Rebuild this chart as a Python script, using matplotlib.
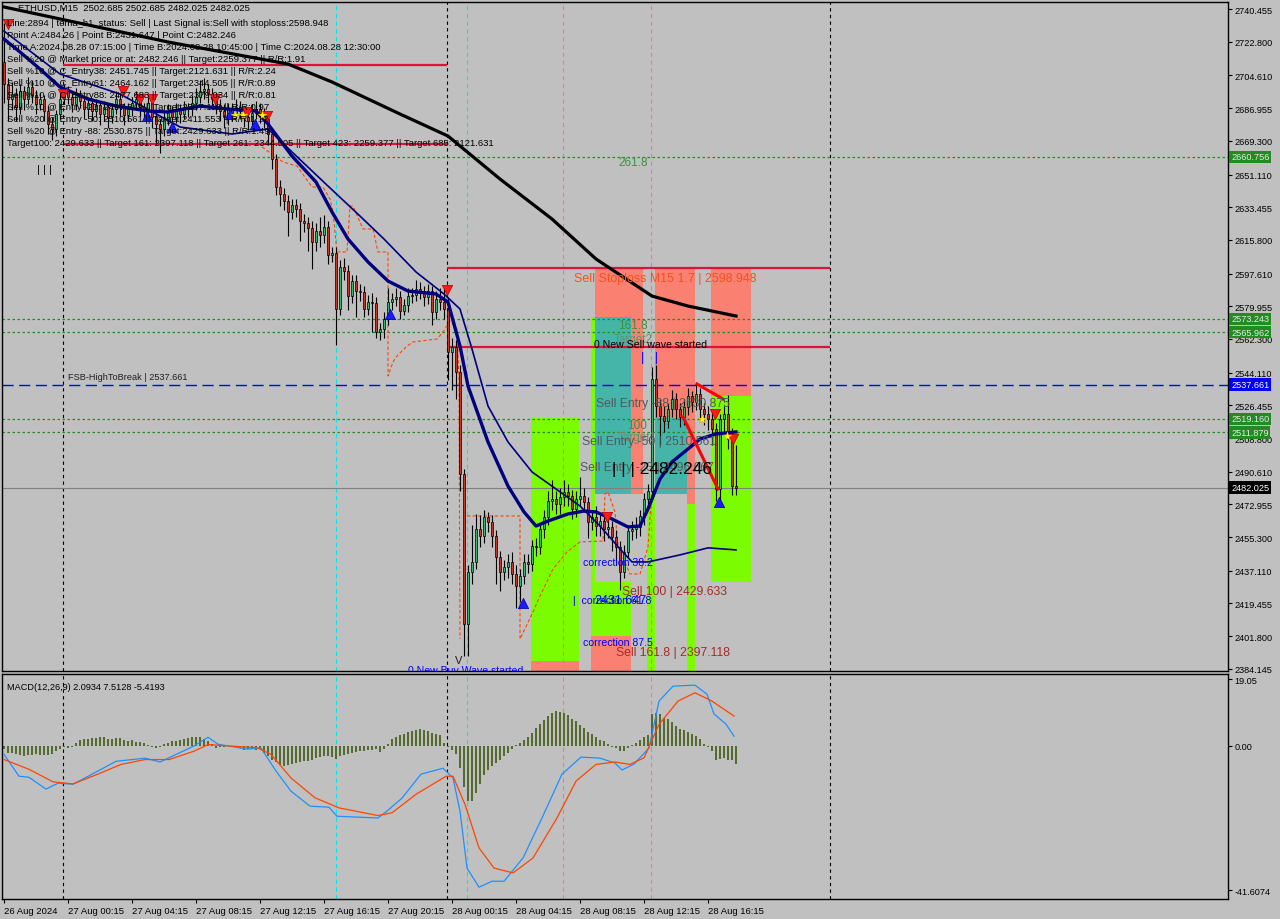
import matplotlib
matplotlib.use("Agg")
import matplotlib.pyplot as plt
from matplotlib.patches import Rectangle
from matplotlib.transforms import blended_transform_factory

plt.rcParams["font.family"] = ["Liberation Sans", "DejaVu Sans"]

# ---------------- data ----------------
first_open = 2712.0
closes = [
    2700.0, 2691.9, 2694.6, 2687.6, 2696.2, 2691.9, 2698.4, 2694.1, 2689.2, 2691.9,
    2685.4, 2678.4, 2675.7, 2683.8, 2691.9, 2696.2, 2693.0, 2689.2, 2694.1, 2690.8,
    2686.5, 2689.7, 2685.4, 2688.7, 2683.8, 2687.6, 2682.2, 2686.5, 2691.9, 2687.6,
    2683.3, 2686.5, 2689.7, 2691.9, 2687.6, 2685.4, 2689.7, 2682.2, 2678.4, 2675.7,
    2681.1, 2685.4, 2682.2, 2686.5, 2683.8, 2687.6, 2686.5, 2689.7, 2693.0, 2696.2,
    2697.3, 2694.6, 2691.9, 2688.7, 2685.4, 2682.2, 2686.5, 2684.3, 2687.6, 2685.4,
    2682.2, 2680.0, 2684.3, 2686.5, 2683.3, 2681.1, 2673.0, 2659.5, 2644.4, 2640.6,
    2636.8, 2630.9, 2634.7, 2632.5, 2626.0, 2624.9, 2622.2, 2614.7, 2620.6, 2618.5,
    2622.8, 2607.7, 2608.8, 2578.5, 2601.2, 2599.0, 2585.5, 2593.6, 2588.2, 2587.7,
    2578.5, 2582.3, 2581.7, 2566.1, 2567.7, 2573.1, 2582.3, 2583.9, 2585.0, 2577.4,
    2580.6, 2585.5, 2586.1, 2589.3, 2588.2, 2585.0, 2588.2, 2576.9, 2583.9, 2582.3,
    2578.5, 2555.3, 2558.0, 2544.5, 2489.4, 2408.4, 2436.5, 2441.9, 2459.7, 2455.9,
    2466.2, 2463.5, 2455.9, 2444.6, 2436.5, 2439.2, 2441.9, 2435.4, 2428.9, 2434.3,
    2441.9, 2440.8, 2450.5, 2450.0, 2459.7, 2466.2, 2474.8, 2475.9, 2473.2, 2477.0,
    2479.7, 2477.5, 2470.5, 2475.9, 2477.5, 2474.3, 2463.5, 2466.2, 2461.3, 2464.0,
    2459.7, 2460.8, 2455.4, 2450.0, 2436.5, 2447.3, 2458.6, 2459.7, 2460.8, 2466.7,
    2475.9, 2480.2, 2540.7, 2526.1, 2520.7, 2518.0, 2524.5, 2529.9, 2524.5, 2520.2,
    2525.6, 2531.5, 2528.3, 2532.6, 2524.5, 2521.8, 2519.1, 2513.7, 2481.3, 2519.1,
    2521.8, 2508.3, 2482.9, 2482.0,
]
highs = [
    2733, 2703, 2701, 2698, 2700, 2699, 2704, 2702, 2697, 2695,
    2694, 2688, 2682, 2686, 2695, 2700, 2699, 2696, 2698, 2697,
    2693, 2693, 2692, 2692, 2691, 2691, 2690, 2690, 2696, 2695,
    2690, 2690, 2693, 2696, 2694, 2690, 2693, 2692, 2685, 2681,
    2685, 2689, 2688, 2690, 2689, 2691, 2690, 2694, 2698, 2702,
    2703, 2700, 2698, 2695, 2692, 2689, 2690, 2690, 2692, 2691,
    2688, 2685, 2689, 2691, 2690, 2687, 2684, 2676, 2662, 2648,
    2644, 2640, 2638, 2638, 2636, 2630, 2628, 2626, 2625, 2628,
    2629, 2626, 2612, 2612, 2605, 2606, 2602, 2597, 2597, 2592,
    2591, 2586, 2587, 2585, 2571, 2577, 2590, 2587, 2590, 2588,
    2584, 2590, 2590, 2594, 2593, 2591, 2592, 2591, 2588, 2590,
    2591, 2585, 2563, 2562, 2548, 2492, 2440, 2462, 2468, 2467,
    2470, 2469, 2467, 2459, 2448, 2443, 2446, 2447, 2440, 2438,
    2446, 2446, 2454, 2455, 2463, 2470, 2480, 2486, 2480, 2482,
    2486, 2484, 2481, 2480, 2488, 2482, 2477, 2470, 2472, 2469,
    2467, 2465, 2464, 2459, 2453, 2451, 2462, 2464, 2466, 2470,
    2479, 2484, 2547, 2548, 2530, 2526, 2528, 2535, 2533, 2528,
    2530, 2536, 2534, 2538, 2536, 2528, 2526, 2523, 2517, 2522,
    2526, 2532, 2514, 2505,
]
lows = [
    2690, 2680, 2686, 2680, 2684, 2686, 2689, 2690, 2684, 2686,
    2680, 2673, 2670, 2672, 2681, 2689, 2689, 2685, 2686, 2687,
    2681, 2683, 2680, 2682, 2678, 2680, 2676, 2679, 2684, 2683,
    2678, 2680, 2683, 2686, 2683, 2680, 2682, 2676, 2668, 2663,
    2672, 2678, 2677, 2679, 2679, 2681, 2682, 2683, 2686, 2690,
    2692, 2690, 2687, 2684, 2680, 2676, 2678, 2680, 2681, 2681,
    2677, 2675, 2677, 2681, 2679, 2676, 2668, 2654, 2640, 2634,
    2632, 2618, 2627, 2628, 2615, 2620, 2610, 2600, 2610, 2612,
    2614, 2603, 2604, 2559, 2575, 2594, 2578, 2582, 2574, 2583,
    2574, 2575, 2566, 2563, 2562, 2563, 2570, 2578, 2580, 2573,
    2575, 2577, 2582, 2583, 2584, 2580, 2581, 2570, 2573, 2578,
    2573, 2540, 2535, 2530, 2480, 2391, 2391, 2430, 2438, 2450,
    2452, 2458, 2450, 2430, 2426, 2432, 2433, 2430, 2417, 2420,
    2430, 2436, 2437, 2445, 2446, 2455, 2462, 2470, 2468, 2468,
    2472, 2472, 2465, 2466, 2472, 2469, 2455, 2459, 2456, 2456,
    2453, 2455, 2448, 2440, 2427, 2433, 2444, 2454, 2455, 2456,
    2462, 2472, 2477, 2520, 2505, 2512, 2514, 2520, 2519, 2515,
    2516, 2521, 2523, 2524, 2519, 2516, 2513, 2505, 2475, 2472,
    2512, 2503, 2478, 2478,
]

macd_hist = [
    -1.0, -2.0, -2.2, -2.5, -2.8, -3.0, -2.8, -2.6, -2.5, -2.6,
    -2.6, -2.8, -2.3, -1.5, -1.0, -0.5, -0.6, -0.4, 0.8, 1.5,
    2.0, 2.0, 2.1, 2.3, 2.5, 2.4, 1.8, 1.9, 2.1, 2.3,
    1.6, 1.4, 1.5, 1.0, 1.0, 0.9, 0.2, -0.3, -0.6, -0.3,
    0.4, 0.8, 1.2, 1.4, 1.5, 1.8, 2.2, 2.5, 2.6, 2.6,
    2.0, 1.2, 0.5, -0.6, -0.3, -0.4, -0.2, -0.2, -0.5, -0.8,
    -1.2, -0.9, -1.0, -1.3, -1.1, -2.0, -3.0, -4.0, -4.8, -5.5,
    -5.9, -5.6, -5.3, -5.1, -4.8, -4.5, -4.4, -4.0, -3.6, -3.2,
    -2.9, -3.0, -3.2, -3.8, -3.0, -2.6, -2.4, -2.0, -1.8, -1.6,
    -1.5, -1.3, -1.2, -1.1, -1.8, -0.9, 0.6, 1.8, 2.5, 3.0,
    3.3, 3.8, 4.2, 4.6, 4.7, 4.4, 4.2, 3.6, 3.4, 3.2,
    0.8, -0.4, -1.2, -2.5, -6.5, -12.0, -16.0, -16.0, -13.5, -11.0,
    -8.5, -7.0, -5.8, -5.0, -4.2, -3.0, -2.0, -1.0, 0.3, 0.8,
    1.6, 2.6, 3.7, 5.0, 6.2, 7.5, 8.6, 9.5, 9.9, 9.8,
    9.5, 8.8, 7.8, 7.0, 6.0, 5.0, 4.0, 3.4, 2.4, 1.6,
    1.2, 0.6, -0.3, -0.8, -1.5, -1.6, -0.6, 0.2, 0.8, 1.5,
    2.5, 3.2, 9.0, 9.5, 9.2, 8.0, 7.8, 6.8, 5.6, 4.8,
    4.6, 3.8, 3.4, 2.8, 2.0, 0.6, -0.4, -1.4, -4.2, -3.8,
    -3.6, -4.0, -4.2, -5.4,
]
macd_idx = [0, 3.75, 6.25, 10.5, 13.5, 17.25, 20.25, 28, 35.25, 39, 47.5, 51, 53.5,
            60.75, 64.25, 68, 71.75, 76.5, 81.25, 83.25, 93.5, 95.75, 99.5, 104.25,
            109.75, 112.25, 114, 115.75, 118.75, 122, 125, 129.75, 134.5, 139.5,
            144.25, 149, 152.75, 154.5, 157.5, 161.25, 163.75, 167.25, 172.75,
            175.75, 177.5, 180.5, 182.5]
macd_line = [-2.5, -8.8, -9.1, -12.5, -10.8, -11.1, -9.3, -4.5, -3.6, -4.7, -0.1, 2.4, 0.4,
             -1.0, -0.7, -7.3, -13.1, -17.4, -17.7, -20.3, -20.8, -18.8, -15.1, -8.2,
             -6.5, -9.3, -18.8, -35.2, -40.7, -39.0, -39.0, -32.3, -20.8, -8.2,
             -3.3, -3.6, -5.0, -7.0, -5.3, -0.7, 12.8, 17.1, 17.4,
             14.8, 9.1, 6.2, 2.7]
signal_idx = [0, 6.25, 12.25, 17.25, 23.25, 29.25, 35.25, 41.25, 47.5, 51, 63.25, 66.75,
              71.75, 77.75, 83.75, 93.5, 97, 103, 110.5, 112.25, 115.25, 118.75, 122.5,
              127.25, 132.25, 138.25, 143, 148, 152.75, 156.5, 160, 163.75, 168.5,
              172.75, 177, 182.5]
signal_line = [-4.0, -6.8, -10.4, -11.0, -8.3, -5.4, -4.0, -4.0, -1.6, 0.3, -0.6, -2.5,
               -9.3, -15.0, -17.9, -20.1, -19.3, -14.0, -8.8, -8.8, -16.9, -29.4, -35.2,
               -36.6, -32.3, -20.8, -10.2, -5.4, -4.7, -5.4, -3.5, 6.1, 12.8,
               15.2, 12.8, 8.5]

ma_fast_idx = [0, 4, 9, 14, 21, 28, 36, 41, 49, 56, 63, 66, 72, 78, 82, 86, 91, 96, 101, 108,
               111, 114, 116, 121, 126, 130, 133, 136, 141, 145, 148, 152, 156, 159, 161,
               164, 167, 171, 174, 178, 183]
ma_fast = [2724.3, 2717.3, 2708.1, 2698.4, 2691.9, 2688.1, 2685.4, 2684.9, 2688.1, 2686.5,
           2685.4, 2678.4, 2661.1, 2647.1, 2630.9, 2616.3, 2603.9, 2593.6, 2588.2, 2586.6,
           2582.3, 2558.5, 2536.9, 2506.7, 2482.9, 2468.9, 2461.3, 2464.0, 2467.8, 2469.4,
           2468.9, 2465.1, 2460.8, 2461.3, 2470.5, 2486.7, 2495.9, 2502.9, 2508.3, 2511.0,
           2512.1]
ma_mid_idx = [0, 14, 29, 44, 57, 66, 72, 81, 89, 95, 103, 110, 114, 117, 121, 126, 132, 138,
              144, 149, 154, 157, 161, 169, 176, 183]
ma_mid = [2728.6, 2705.4, 2694.6, 2676.8, 2673.0, 2675.7, 2663.3, 2644.9, 2628.7, 2616.3,
          2598.5, 2586.6, 2578.5, 2556.9, 2526.1, 2506.7, 2490.5, 2481.3, 2472.1, 2461.3,
          2448.9, 2441.9, 2441.9, 2445.7, 2449.5, 2448.4]
ma_slow_idx = [0, 41, 71, 82, 99, 111, 124, 137, 148, 162, 171, 183]
ma_slow = [2741.6, 2722.7, 2710.8, 2701.1, 2683.8, 2671.9, 2648.7, 2627.1, 2605.5, 2585.5,
           2580.1, 2574.7]

trail1_idx = [64.5, 69.75, 73.25, 77, 79.75, 81.5, 82.25, 83.25, 85.75, 86.5, 87.25, 89.75,
              92.25, 93.5, 96, 96, 97.25, 98.25, 100.75, 102.25, 108.25, 109.75, 111.5,
              113.25, 113.75, 114]
trail1 = [2666.0, 2657.9, 2655.7, 2644.4, 2644.4, 2637.9, 2630.9, 2609.3, 2609.3, 2634.1,
          2634.1, 2621.7, 2621.7, 2609.3, 2609.3, 2542.3, 2549.9, 2553.1, 2558.5, 2560.7,
          2562.3, 2566.1, 2572.0, 2567.7, 2540.7, 2400.3]
trail2_idx = [115.75, 129, 129, 132.25, 134, 137.25, 140.75, 144, 149.75, 150.25, 151,
              152.75, 153.5, 156.5, 159, 161, 162]
trail2 = [2466.7, 2466.7, 2400.3, 2414.9, 2423.5, 2438.1, 2447.3, 2452.7, 2453.2, 2478.6,
          2479.7, 2468.9, 2450.5, 2435.4, 2435.4, 2450.0, 2481.3]

sell_idx = [1, 14.75, 29.75, 34, 37, 52.75, 60.75, 65.75, 110.75, 150.75, 177.75, 182.25]
sell_px = [2732.4, 2694.6, 2696.2, 2691.9, 2691.9, 2691.9, 2684.9, 2682.7, 2588.8, 2466.2,
           2521.8, 2508.3]
buy_idx = [35.75, 42, 56.5, 62.75, 96.5, 129.75, 178.75]
buy_px = [2682.7, 2676.8, 2683.8, 2678.4, 2575.8, 2419.7, 2474.3]
star_idx = [57.75, 59.75, 64.5, 174.5, 180.75]
star_px = [2683.3, 2683.3, 2683.3, 2519.1, 2509.9]

green_levels = [2660.756, 2573.243, 2565.962, 2519.160, 2511.879]
fsb_level = 2537.661
last_price = 2482.025

price_ticks = [2740.455, 2722.800, 2704.610, 2686.955, 2669.300, 2651.110, 2633.455,
               2615.800, 2597.610, 2579.955, 2562.300, 2544.110, 2526.455, 2508.800,
               2490.610, 2472.955, 2455.300, 2437.110, 2419.455, 2401.800, 2384.145]
time_labels = ["26 Aug 2024", "27 Aug 00:15", "27 Aug 04:15", "27 Aug 08:15",
               "27 Aug 12:15", "27 Aug 16:15", "27 Aug 20:15", "28 Aug 00:15",
               "28 Aug 04:15", "28 Aug 08:15", "28 Aug 12:15", "28 Aug 16:15"]

info_lines = [
    "Line:2894 | tema_h1_status: Sell | Last Signal is:Sell with stoploss:2598.948",
    "Point A:2484.26 | Point B:2431.647 | Point C:2482.246",
    "Time A:2024.08.28 07:15:00 | Time B:2024.08.28 10:45:00 | Time C:2024.08.28 12:30:00",
    "Sell %20 @ Market price or at: 2482.246 || Target:2259.377 || R/R:1.91",
    "Sell %10 @ C_Entry38: 2451.745 || Target:2121.631 || R/R:2.24",
    "Sell %10 @ C_Entry61: 2464.162 || Target:2344.505 || R/R:0.89",
    "Sell %10 @ C_Entry88: 2477.683 || Target:2379.034 || R/R:0.81",
    "Sell %10 @ Entry -23: 2497.849 || Target:2397.118 || R/R:0.97",
    "Sell %20 @ Entry -50: 2510.561 || Target:2411.553 || R/R:1.12",
    "Sell %20 @ Entry -88: 2530.875 || Target:2429.633 || R/R:1.49",
    "Target100: 2429.633 || Target 161: 2397.118 || Target 261: 2344.505 || Target 423: 2259.377 || Target 685: 2121.631",
]

# ---------------- figure ----------------
BG = "#c0c0c0"
W, H = 1280, 920
fig = plt.figure(figsize=(W / 100, H / 100), dpi=100, facecolor=BG)


def fx(px):
    return px / W


def fy(py):
    return 1 - py / H


ax = fig.add_axes([fx(2), fy(672), fx(1228) - fx(2), fy(3) - fy(672)], facecolor=BG)
ax2 = fig.add_axes([fx(2), fy(900), fx(1228) - fx(2), fy(675) - fy(900)], facecolor=BG)

n = len(closes)
idx = list(range(n))
opens = [first_open] + closes[:-1]

for a in (ax, ax2):
    a.set_xlim(-0.5, 306)
    for s in a.spines.values():
        s.set_color("black")
        s.set_linewidth(1)

ax.set_ylim(2383.0, 2744.3)
ax2.set_ylim(-44.1, 20.6)

# coloured zones (behind everything)
LIME, SALMON, TEAL = "#7cfc00", "#fa8072", "#45b5aa"
zones = [
    (131.75, 143.75, 2388.4, 2519.6, LIME), (131.75, 143.75, 2375, 2388.4, SALMON),
    (146.75, 147.75, 2431.1, 2574.2, LIME), (147.75, 159.75, 2574.2, 2600.5, SALMON),
    (147.75, 156.75, 2478.6, 2574.2, TEAL), (156.75, 159.75, 2478.6, 2574.2, SALMON),
    (146.75, 156.75, 2401.9, 2431.1, LIME), (146.75, 156.75, 2375, 2401.9, SALMON),
    (160.75, 162.75, 2375, 2478.6, LIME), (162.75, 172.75, 2519.6, 2600.5, SALMON),
    (162.75, 170.75, 2478.6, 2519.6, TEAL), (170.75, 172.75, 2473.2, 2519.6, SALMON),
    (170.75, 172.75, 2375, 2473.2, LIME), (176.75, 186.75, 2531.5, 2600.5, SALMON),
    (176.75, 186.75, 2431.1, 2531.5, LIME),
]
for x0, x1, y0, y1, c in zones:
    ax.add_patch(Rectangle((x0, y0), x1 - x0, y1 - y0, facecolor=c, edgecolor="none", zorder=0.5))

# vertical separators
for a in (ax, ax2):
    for v in (14.75, 110.75, 206.5):
        a.axvline(v, color="black", lw=0.8, ls=(0, (3, 3)), zorder=1)
    for v in (83, 115.75):
        a.axvline(v, color="#00e5ee", lw=0.8, ls=(0, (4, 3)), zorder=1)
    for v in (139.75, 161.75):
        a.axvline(v, color="#ff69b4", lw=0.8, ls=(0, (4, 3)), zorder=1)

# horizontal levels
for lv in green_levels:
    ax.axhline(lv, color="#228b22", lw=0.9, ls=(0, (2, 2)), zorder=1.2)
ax.axhline(fsb_level, color="#0000ff", lw=1.0, ls=(0, (8, 4)), zorder=1.2)
ax.axhline(last_price, color="#808080", lw=0.8, zorder=1.2)
ax.hlines([2710.3, 2667.6], 14.75, 110.75, color="#dc143c", lw=1.6, zorder=1.3)
ax.hlines([2600.5, 2558.0], 110.75, 206.5, color="#dc143c", lw=1.6, zorder=1.3)

# trailing stop dashes
ax.plot(trail1_idx, trail1, color="#ff4500", lw=0.8, ls=(0, (3, 2)), zorder=2)
ax.plot(trail2_idx, trail2, color="#ff4500", lw=0.8, ls=(0, (3, 2)), zorder=2)

# candles
bull = [c >= o for o, c in zip(opens, closes)]
ax.vlines(idx, lows, highs, color="black", lw=0.8, zorder=3)
body_lo = [min(o, c) for o, c in zip(opens, closes)]
body_h = [max(abs(c - o), 0.4) for o, c in zip(opens, closes)]
ax.bar(idx, body_h, bottom=body_lo, width=0.62,
       color=["#3cb371" if b else "#c0392b" for b in bull],
       edgecolor="black", linewidth=0.5, zorder=3.2)

# moving averages
ax.plot(ma_slow_idx, ma_slow, color="black", lw=2.3, zorder=4)
ax.plot(ma_mid_idx, ma_mid, color="#000080", lw=1.2, zorder=4)
ax.plot(ma_fast_idx, ma_fast, color="#000080", lw=2.4, zorder=4)

# zigzag
ax.plot([173.25, 179.75], [2538.0, 2529.9], color="#ff0000", lw=2.2, zorder=4.5)
ax.plot([169.75, 178.5], [2520.2, 2481.3], color="#ff0000", lw=2.2, zorder=4.5)

# signal markers
ax.scatter(sell_idx, sell_px, marker="v", s=55, color="#ff1a1a", edgecolor="#b00000", lw=0.5, zorder=5)
ax.scatter(buy_idx, buy_px, marker="^", s=55, color="#1a1aff", edgecolor="#0000a0", lw=0.5, zorder=5)
ax.scatter(star_idx, star_px, marker="*", s=45, color="#ffff00", edgecolor="#d0a000", lw=0.3, zorder=5)

# in-chart labels
GREEN_TXT = "#3d9140"
ax.text(157.25, 2657.9, "261.8", color=GREEN_TXT, fontsize=8.5, ha="center", va="center", zorder=6)
ax.text(142.5, 2595.2, "Sell Stoploss M15 1.7 | 2598.948", color="#f4511e", fontsize=8.9, va="center", zorder=6)
ax.text(157.25, 2569.9, "161.8", color=GREEN_TXT, fontsize=8.5, ha="center", va="center", zorder=6)
ax.text(157.25, 2562.3, "Target2", color="#6b8e6b", fontsize=8.5, ha="center", va="center", zorder=6)
ax.text(147.5, 2559.4, "0 New Sell wave started", color="black", fontsize=7.6, va="center", zorder=6)
ax.text(159.25, 2552.6, "|   |", color="#0000ff", fontsize=9, va="center", zorder=6)
ax.text(148, 2527.7, "Sell Entry -88 | 2530.875", color="#505a5a", fontsize=8.7, va="center", zorder=6)
ax.text(158.25, 2515.9, "100", color=GREEN_TXT, fontsize=8.5, ha="center", va="center", zorder=6)
ax.text(158.25, 2509.4, "Target1", color="#6b8e6b", fontsize=8.5, ha="center", va="center", zorder=6)
ax.text(144.5, 2507.2, "Sell Entry -50 | 2510.561", color="#505a5a", fontsize=8.7, va="center", zorder=6)
ax.text(144, 2493.2, "Sell Entry -23 | 2496.667", color="#505a5a", fontsize=8.7, va="center", zorder=6)
ax.text(152, 2492.1, "| | | 2482.246", color="black", fontsize=12.5, va="center", zorder=6)
ax.text(144.75, 2441.9, "correction 38.2", color="#0000ff", fontsize=7.6, va="center", zorder=6)
ax.text(142.25, 2421.4, "|  correction 61.8", color="#0000ff", fontsize=7.6, va="center", zorder=6)
ax.text(147.5, 2421.4, "2431.647", color="#0000ff", fontsize=9, va="center", zorder=6)
ax.text(154.5, 2426.2, "Sell 100 | 2429.633", color="#a52a2a", fontsize=8.7, va="center", zorder=6)
ax.text(144.75, 2398.7, "correction 87.5", color="#0000ff", fontsize=7.6, va="center", zorder=6)
ax.text(153, 2393.3, "Sell 161.8 | 2397.118", color="#a52a2a", fontsize=8.7, va="center", zorder=6)
ax.text(101, 2383.4, "0 New Buy Wave started", color="#0000ff", fontsize=7.6, va="center",
        zorder=6, clip_on=True)
ax.text(16, 2541.8, "FSB-HighToBreak | 2537.661", color="#202020", fontsize=6.6, va="center", zorder=6)
ax.text(8.25, 2654.1, "| | |", color="black", fontsize=8, va="center", zorder=6)
ax.text(113.75, 2389.0, "V", color="#202020", fontsize=8, ha="center", va="center", zorder=6)

# header and info block
fig.text(fx(18), fy(8), "ETHUSD,M15  2502.685 2502.685 2482.025 2482.025",
         fontsize=6.8, va="center", color="black")
for k, line in enumerate(info_lines):
    fig.text(fx(7), fy(23 + 12 * k), line, fontsize=6.8, va="center", color="black")

# price axis
ax.yaxis.tick_right()
ax.set_yticks(price_ticks)
ax.set_yticklabels([f"{t:.3f}" for t in price_ticks])
ax.tick_params(axis="y", direction="out", length=3, width=0.8, labelsize=6.6, pad=1.5)
ax.set_xticks([])

trans = blended_transform_factory(ax.transAxes, ax.transData)
for lv in green_levels:
    ax.text(1.0025, lv, f"{lv:.3f}", transform=trans, fontsize=6.6, color="#e8e8e8",
            va="center", ha="left", clip_on=False, zorder=10,
            bbox=dict(boxstyle="square,pad=0.18", fc="#228b22", ec="none"))
ax.text(1.0025, fsb_level, f"{fsb_level:.3f}", transform=trans, fontsize=6.6, color="white",
        va="center", ha="left", clip_on=False, zorder=10,
        bbox=dict(boxstyle="square,pad=0.18", fc="#0000ff", ec="none"))
ax.text(1.0025, last_price, f"{last_price:.3f}", transform=trans, fontsize=6.6, color="white",
        va="center", ha="left", clip_on=False, zorder=10,
        bbox=dict(boxstyle="square,pad=0.18", fc="black", ec="none"))

# MACD panel
ax2.bar(idx, macd_hist, width=0.72, color="#556b2f", zorder=2)
ax2.plot(macd_idx, macd_line, color="#1e90ff", lw=0.9, zorder=3)
ax2.plot(signal_idx, signal_line, color="#ff4500", lw=0.9, zorder=3)
ax2.text(0.004, 0.965, "MACD(12,26,9) 2.0934 7.5128 -5.4193", transform=ax2.transAxes,
         fontsize=6.6, va="top", color="black")
ax2.yaxis.tick_right()
ax2.set_yticks([19.05, 0.0, -41.6074])
ax2.set_yticklabels(["19.05", "0.00", "-41.6074"])
ax2.tick_params(axis="y", direction="out", length=3, width=0.8, labelsize=6.6, pad=1.5)

ax2.set_xticks([16 * k for k in range(len(time_labels))])
ax2.set_xticklabels(time_labels, ha="left")
ax2.tick_params(axis="x", direction="out", length=3, width=0.8, labelsize=6.8, pad=2)

fig.savefig("out.png", dpi=100, facecolor=BG)
plt.close(fig)
